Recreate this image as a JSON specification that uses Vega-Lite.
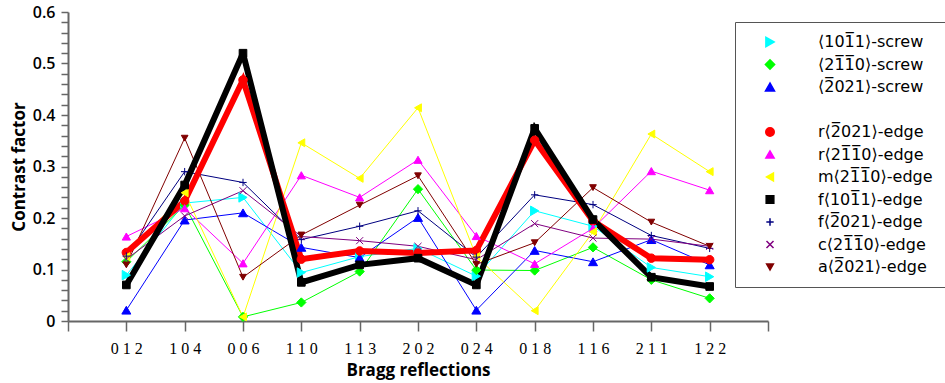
{
  "$schema": "https://vega.github.io/schema/vega-lite/v6.json",
  "width": 700,
  "height": 309,
  "autosize": {"type": "none"},
  "padding": {"left": 68, "top": 12, "right": 177, "bottom": 62},
  "background": "white",
  "config": {"view": {"stroke": null}},
  "datasets": {
    "rows": [
      {"series": "⟨101̅1⟩-screw", "reflection": "012", "contrast": 0.089},
      {"series": "⟨101̅1⟩-screw", "reflection": "104", "contrast": 0.229},
      {"series": "⟨101̅1⟩-screw", "reflection": "006", "contrast": 0.240},
      {"series": "⟨101̅1⟩-screw", "reflection": "110", "contrast": 0.094},
      {"series": "⟨101̅1⟩-screw", "reflection": "113", "contrast": 0.125},
      {"series": "⟨101̅1⟩-screw", "reflection": "202", "contrast": 0.141},
      {"series": "⟨101̅1⟩-screw", "reflection": "024", "contrast": 0.087},
      {"series": "⟨101̅1⟩-screw", "reflection": "018", "contrast": 0.214},
      {"series": "⟨101̅1⟩-screw", "reflection": "116", "contrast": 0.184},
      {"series": "⟨101̅1⟩-screw", "reflection": "211", "contrast": 0.104},
      {"series": "⟨101̅1⟩-screw", "reflection": "122", "contrast": 0.086},

      {"series": "⟨21̅1̅0⟩-screw", "reflection": "012", "contrast": 0.115},
      {"series": "⟨21̅1̅0⟩-screw", "reflection": "104", "contrast": 0.225},
      {"series": "⟨21̅1̅0⟩-screw", "reflection": "006", "contrast": 0.008},
      {"series": "⟨21̅1̅0⟩-screw", "reflection": "110", "contrast": 0.036},
      {"series": "⟨21̅1̅0⟩-screw", "reflection": "113", "contrast": 0.096},
      {"series": "⟨21̅1̅0⟩-screw", "reflection": "202", "contrast": 0.256},
      {"series": "⟨21̅1̅0⟩-screw", "reflection": "024", "contrast": 0.099},
      {"series": "⟨21̅1̅0⟩-screw", "reflection": "018", "contrast": 0.098},
      {"series": "⟨21̅1̅0⟩-screw", "reflection": "116", "contrast": 0.143},
      {"series": "⟨21̅1̅0⟩-screw", "reflection": "211", "contrast": 0.080},
      {"series": "⟨21̅1̅0⟩-screw", "reflection": "122", "contrast": 0.044},

      {"series": "⟨2̅021⟩-screw", "reflection": "012", "contrast": 0.021},
      {"series": "⟨2̅021⟩-screw", "reflection": "104", "contrast": 0.196},
      {"series": "⟨2̅021⟩-screw", "reflection": "006", "contrast": 0.210},
      {"series": "⟨2̅021⟩-screw", "reflection": "110", "contrast": 0.143},
      {"series": "⟨2̅021⟩-screw", "reflection": "113", "contrast": 0.123},
      {"series": "⟨2̅021⟩-screw", "reflection": "202", "contrast": 0.201},
      {"series": "⟨2̅021⟩-screw", "reflection": "024", "contrast": 0.021},
      {"series": "⟨2̅021⟩-screw", "reflection": "018", "contrast": 0.137},
      {"series": "⟨2̅021⟩-screw", "reflection": "116", "contrast": 0.115},
      {"series": "⟨2̅021⟩-screw", "reflection": "211", "contrast": 0.158},
      {"series": "⟨2̅021⟩-screw", "reflection": "122", "contrast": 0.109},

      {"series": "r⟨2̅021⟩-edge", "reflection": "012", "contrast": 0.133},
      {"series": "r⟨2̅021⟩-edge", "reflection": "104", "contrast": 0.233},
      {"series": "r⟨2̅021⟩-edge", "reflection": "006", "contrast": 0.468},
      {"series": "r⟨2̅021⟩-edge", "reflection": "110", "contrast": 0.120},
      {"series": "r⟨2̅021⟩-edge", "reflection": "113", "contrast": 0.136},
      {"series": "r⟨2̅021⟩-edge", "reflection": "202", "contrast": 0.132},
      {"series": "r⟨2̅021⟩-edge", "reflection": "024", "contrast": 0.137},
      {"series": "r⟨2̅021⟩-edge", "reflection": "018", "contrast": 0.351},
      {"series": "r⟨2̅021⟩-edge", "reflection": "116", "contrast": 0.194},
      {"series": "r⟨2̅021⟩-edge", "reflection": "211", "contrast": 0.122},
      {"series": "r⟨2̅021⟩-edge", "reflection": "122", "contrast": 0.119},

      {"series": "r⟨21̅1̅0⟩-edge", "reflection": "012", "contrast": 0.164},
      {"series": "r⟨21̅1̅0⟩-edge", "reflection": "104", "contrast": 0.219},
      {"series": "r⟨21̅1̅0⟩-edge", "reflection": "006", "contrast": 0.112},
      {"series": "r⟨21̅1̅0⟩-edge", "reflection": "110", "contrast": 0.283},
      {"series": "r⟨21̅1̅0⟩-edge", "reflection": "113", "contrast": 0.240},
      {"series": "r⟨21̅1̅0⟩-edge", "reflection": "202", "contrast": 0.313},
      {"series": "r⟨21̅1̅0⟩-edge", "reflection": "024", "contrast": 0.165},
      {"series": "r⟨21̅1̅0⟩-edge", "reflection": "018", "contrast": 0.111},
      {"series": "r⟨21̅1̅0⟩-edge", "reflection": "116", "contrast": 0.180},
      {"series": "r⟨21̅1̅0⟩-edge", "reflection": "211", "contrast": 0.291},
      {"series": "r⟨21̅1̅0⟩-edge", "reflection": "122", "contrast": 0.254},

      {"series": "m⟨21̅1̅0⟩-edge", "reflection": "012", "contrast": 0.125},
      {"series": "m⟨21̅1̅0⟩-edge", "reflection": "104", "contrast": 0.249},
      {"series": "m⟨21̅1̅0⟩-edge", "reflection": "006", "contrast": 0.008},
      {"series": "m⟨21̅1̅0⟩-edge", "reflection": "110", "contrast": 0.346},
      {"series": "m⟨21̅1̅0⟩-edge", "reflection": "113", "contrast": 0.277},
      {"series": "m⟨21̅1̅0⟩-edge", "reflection": "202", "contrast": 0.414},
      {"series": "m⟨21̅1̅0⟩-edge", "reflection": "024", "contrast": 0.125},
      {"series": "m⟨21̅1̅0⟩-edge", "reflection": "018", "contrast": 0.020},
      {"series": "m⟨21̅1̅0⟩-edge", "reflection": "116", "contrast": 0.173},
      {"series": "m⟨21̅1̅0⟩-edge", "reflection": "211", "contrast": 0.363},
      {"series": "m⟨21̅1̅0⟩-edge", "reflection": "122", "contrast": 0.290},

      {"series": "f⟨101̅1⟩-edge", "reflection": "012", "contrast": 0.070},
      {"series": "f⟨101̅1⟩-edge", "reflection": "104", "contrast": 0.264},
      {"series": "f⟨101̅1⟩-edge", "reflection": "006", "contrast": 0.520},
      {"series": "f⟨101̅1⟩-edge", "reflection": "110", "contrast": 0.075},
      {"series": "f⟨101̅1⟩-edge", "reflection": "113", "contrast": 0.109},
      {"series": "f⟨101̅1⟩-edge", "reflection": "202", "contrast": 0.122},
      {"series": "f⟨101̅1⟩-edge", "reflection": "024", "contrast": 0.070},
      {"series": "f⟨101̅1⟩-edge", "reflection": "018", "contrast": 0.374},
      {"series": "f⟨101̅1⟩-edge", "reflection": "116", "contrast": 0.197},
      {"series": "f⟨101̅1⟩-edge", "reflection": "211", "contrast": 0.085},
      {"series": "f⟨101̅1⟩-edge", "reflection": "122", "contrast": 0.067},

      {"series": "f⟨2̅021⟩-edge", "reflection": "012", "contrast": 0.126},
      {"series": "f⟨2̅021⟩-edge", "reflection": "104", "contrast": 0.290},
      {"series": "f⟨2̅021⟩-edge", "reflection": "006", "contrast": 0.269},
      {"series": "f⟨2̅021⟩-edge", "reflection": "110", "contrast": 0.158},
      {"series": "f⟨2̅021⟩-edge", "reflection": "113", "contrast": 0.184},
      {"series": "f⟨2̅021⟩-edge", "reflection": "202", "contrast": 0.214},
      {"series": "f⟨2̅021⟩-edge", "reflection": "024", "contrast": 0.124},
      {"series": "f⟨2̅021⟩-edge", "reflection": "018", "contrast": 0.245},
      {"series": "f⟨2̅021⟩-edge", "reflection": "116", "contrast": 0.226},
      {"series": "f⟨2̅021⟩-edge", "reflection": "211", "contrast": 0.166},
      {"series": "f⟨2̅021⟩-edge", "reflection": "122", "contrast": 0.141},

      {"series": "c⟨21̅1̅0⟩-edge", "reflection": "012", "contrast": 0.120},
      {"series": "c⟨21̅1̅0⟩-edge", "reflection": "104", "contrast": 0.204},
      {"series": "c⟨21̅1̅0⟩-edge", "reflection": "006", "contrast": 0.253},
      {"series": "c⟨21̅1̅0⟩-edge", "reflection": "110", "contrast": 0.164},
      {"series": "c⟨21̅1̅0⟩-edge", "reflection": "113", "contrast": 0.156},
      {"series": "c⟨21̅1̅0⟩-edge", "reflection": "202", "contrast": 0.145},
      {"series": "c⟨21̅1̅0⟩-edge", "reflection": "024", "contrast": 0.119},
      {"series": "c⟨21̅1̅0⟩-edge", "reflection": "018", "contrast": 0.189},
      {"series": "c⟨21̅1̅0⟩-edge", "reflection": "116", "contrast": 0.161},
      {"series": "c⟨21̅1̅0⟩-edge", "reflection": "211", "contrast": 0.159},
      {"series": "c⟨21̅1̅0⟩-edge", "reflection": "122", "contrast": 0.145},

      {"series": "a⟨2̅021⟩-edge", "reflection": "012", "contrast": 0.109},
      {"series": "a⟨2̅021⟩-edge", "reflection": "104", "contrast": 0.355},
      {"series": "a⟨2̅021⟩-edge", "reflection": "006", "contrast": 0.085},
      {"series": "a⟨2̅021⟩-edge", "reflection": "110", "contrast": 0.167},
      {"series": "a⟨2̅021⟩-edge", "reflection": "113", "contrast": 0.225},
      {"series": "a⟨2̅021⟩-edge", "reflection": "202", "contrast": 0.282},
      {"series": "a⟨2̅021⟩-edge", "reflection": "024", "contrast": 0.110},
      {"series": "a⟨2̅021⟩-edge", "reflection": "018", "contrast": 0.152},
      {"series": "a⟨2̅021⟩-edge", "reflection": "116", "contrast": 0.259},
      {"series": "a⟨2̅021⟩-edge", "reflection": "211", "contrast": 0.192},
      {"series": "a⟨2̅021⟩-edge", "reflection": "122", "contrast": 0.145}
    ]
  },
  "data": {"name": "rows"},
  "encoding": {
    "x": {
      "field": "reflection",
      "type": "ordinal",
      "sort": null,
      "scale": {"type": "point", "padding": 0, "domain": ["_L", "012", "104", "006", "110", "113", "202", "024", "018", "116", "211", "122", "_R"]},
      "axis": {
        "title": "Bragg reflections",
        "titleFont": "Open Sans",
        "titleFontSize": 17,
        "titleFontWeight": "bold",
        "titleColor": "#000",
        "titlePadding": 6,
        "labelExpr": "length(datum.label) == 3 ? substring(datum.label,0,1) + ' ' + substring(datum.label,1,2) + ' ' + substring(datum.label,2,3) : ''",
        "labelAngle": 0,
        "labelFont": "Liberation Sans Narrow",
        "labelFontSize": 16,
        "labelColor": "#000",
        "labelPadding": 9,
        "tickSize": 10,
        "tickColor": "#666",
        "tickWidth": 1.5,
        "domainColor": "#666",
        "domainWidth": 2,
        "grid": false
      }
    },
    "y": {
      "field": "contrast",
      "type": "quantitative",
      "scale": {"domain": [0, 0.6], "nice": false},
      "axis": {
        "title": "Contrast factor",
        "titleFont": "Open Sans",
        "titleFontSize": 17,
        "titleFontWeight": "bold",
        "titleColor": "#000",
        "titlePadding": 4,
        "values": [0, 0.02, 0.04, 0.06, 0.08, 0.1, 0.12, 0.14, 0.16, 0.18, 0.2, 0.22, 0.24, 0.26, 0.28, 0.3, 0.32, 0.34, 0.36, 0.38, 0.4, 0.42, 0.44, 0.46, 0.48, 0.5, 0.52, 0.54, 0.56, 0.58, 0.6],
        "labelExpr": "abs(round(datum.value * 10) - datum.value * 10) < 0.001 ? format(datum.value, '.1~f') : ''",
        "labelFont": "Open Sans",
        "labelFontSize": 16,
        "labelFontWeight": 600,
        "labelColor": "#000",
        "labelPadding": 6,
        "tickSize": 7,
        "tickColor": "#666",
        "tickWidth": 1.5,
        "domainColor": "#666",
        "domainWidth": 2,
        "grid": false
      }
    }
  },
  "layer": [
    {
      "transform": [{"filter": "datum.series != 'r⟨2̅021⟩-edge' && datum.series != 'f⟨101̅1⟩-edge'"}],
      "mark": {"type": "line", "strokeWidth": 1},
      "encoding": {
        "color": {
          "field": "series",
          "type": "nominal",
          "scale": {
            "domain": ["⟨101̅1⟩-screw", "⟨21̅1̅0⟩-screw", "⟨2̅021⟩-screw", " ", "r⟨2̅021⟩-edge", "r⟨21̅1̅0⟩-edge", "m⟨21̅1̅0⟩-edge", "f⟨101̅1⟩-edge", "f⟨2̅021⟩-edge", "c⟨21̅1̅0⟩-edge", "a⟨2̅021⟩-edge"],
            "range": ["#00ffff", "#00ff00", "#0000ff", "rgba(0,0,0,0)", "#ff0000", "#ff00ff", "#ffff00", "#000000", "#000080", "#800080", "#800000"]
          },
          "legend": {
            "orient": "none",
            "legendX": 667,
            "legendY": 10,
            "title": null,
            "symbolSize": 196,
            "symbolStrokeWidth": 1.5,
            "symbolOffset": 15,
            "labelFont": "DejaVu Sans",
            "labelFontSize": 16,
            "labelColor": "#000",
            "labelOffset": 40,
            "labelLimit": 300,
            "rowPadding": 6.5,
            "padding": 12,
            "strokeColor": "#555",
            "fillColor": "white"
          }
        }
      }
    },
    {
      "transform": [{"filter": "datum.series == 'r⟨2̅021⟩-edge' || datum.series == 'f⟨101̅1⟩-edge'"}],
      "mark": {"type": "line", "strokeWidth": 6, "strokeJoin": "miter", "strokeMiterLimit": 3},
      "encoding": {
        "color": {"field": "series", "type": "nominal"}
      }
    },
    {
      "mark": {"type": "point", "filled": true, "strokeWidth": 1, "opacity": 1},
      "encoding": {
        "color": {"field": "series", "type": "nominal"},
        "stroke": {
          "field": "series",
          "type": "nominal",
          "scale": {
            "domain": ["⟨101̅1⟩-screw", "⟨21̅1̅0⟩-screw", "⟨2̅021⟩-screw", " ", "r⟨2̅021⟩-edge", "r⟨21̅1̅0⟩-edge", "m⟨21̅1̅0⟩-edge", "f⟨101̅1⟩-edge", "f⟨2̅021⟩-edge", "c⟨21̅1̅0⟩-edge", "a⟨2̅021⟩-edge"],
            "range": ["#00ffff", "#00ff00", "#0000ff", "rgba(0,0,0,0)", "#ff0000", "#ff00ff", "#ffff00", "#000000", "#000080", "#800080", "#800000"]
          },
          "legend": null
        },
        "shape": {
          "field": "series",
          "type": "nominal",
          "scale": {
            "domain": ["⟨101̅1⟩-screw", "⟨21̅1̅0⟩-screw", "⟨2̅021⟩-screw", " ", "r⟨2̅021⟩-edge", "r⟨21̅1̅0⟩-edge", "m⟨21̅1̅0⟩-edge", "f⟨101̅1⟩-edge", "f⟨2̅021⟩-edge", "c⟨21̅1̅0⟩-edge", "a⟨2̅021⟩-edge"],
            "range": ["triangle-right", "diamond", "triangle-up", "circle", "circle", "triangle-up", "triangle-left", "square", "M-1,0L1,0M0,-1L0,1", "M-1,-1L1,1M-1,1L1,-1", "triangle-down"]
          },
          "legend": null
        },
        "size": {
          "field": "series",
          "type": "nominal",
          "scale": {
            "domain": ["⟨101̅1⟩-screw", "⟨21̅1̅0⟩-screw", "⟨2̅021⟩-screw", " ", "r⟨2̅021⟩-edge", "r⟨21̅1̅0⟩-edge", "m⟨21̅1̅0⟩-edge", "f⟨101̅1⟩-edge", "f⟨2̅021⟩-edge", "c⟨21̅1̅0⟩-edge", "a⟨2̅021⟩-edge"],
            "range": [90, 45, 100, 0, 170, 100, 100, 190, 110, 80, 100]
          },
          "legend": null
        }
      }
    }
  ]
}
